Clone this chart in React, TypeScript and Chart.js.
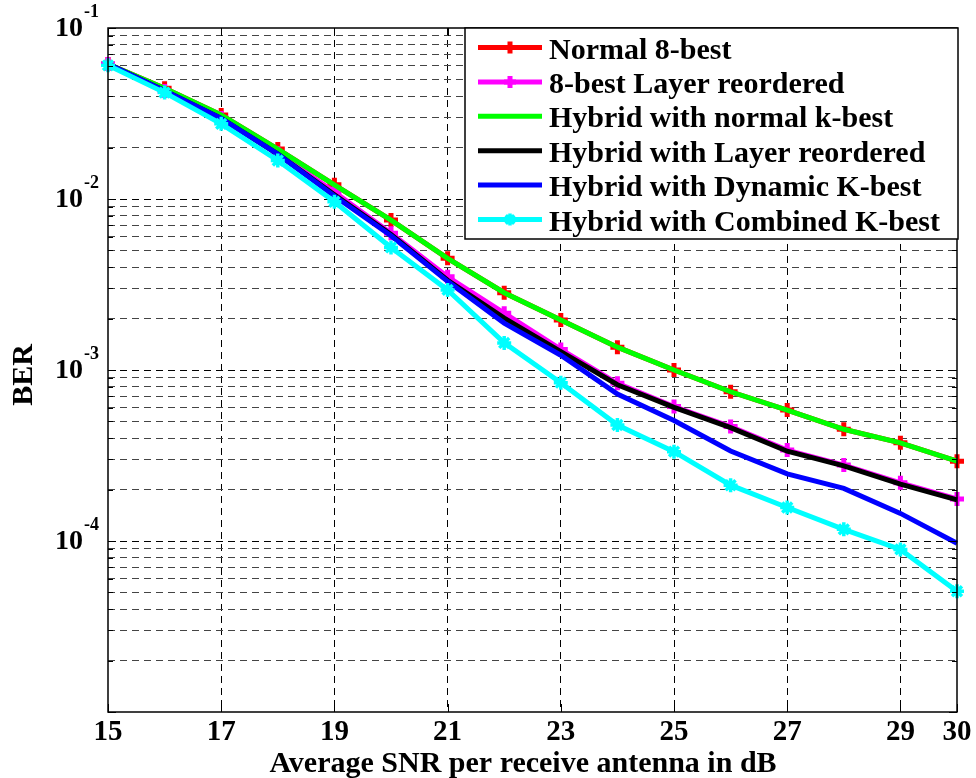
import React, { useEffect, useRef } from 'react';
import { Chart, registerables } from 'chart.js';

Chart.register(...registerables);

// ---- data ----
const snrDb = [15, 16, 17, 18, 19, 20, 21, 22, 23, 24, 25, 26, 27, 28, 29, 30];

const normal8Best = [0.0616, 0.0444, 0.031, 0.0196, 0.0121, 0.00753, 0.0045, 0.00283, 0.00196, 0.00136, 0.001, 0.000746, 0.000583, 0.00045, 0.000375, 0.000293];
const layerReordered8Best = [0.0616, 0.0428, 0.0298, 0.0185, 0.011, 0.00631, 0.00351, 0.00215, 0.00132, 0.000836, 0.000611, 0.000467, 0.00034, 0.000278, 0.000219, 0.000176];
const hybridNormalKBest = [0.0616, 0.0444, 0.031, 0.0196, 0.0121, 0.00753, 0.0045, 0.00283, 0.00196, 0.00136, 0.001, 0.000746, 0.000583, 0.00045, 0.000375, 0.000293];
const hybridLayerReordered = [0.0616, 0.043, 0.0296, 0.0183, 0.0106, 0.0062, 0.00335, 0.00201, 0.00128, 0.00082, 0.000605, 0.00046, 0.000335, 0.000275, 0.000215, 0.000174];
const hybridDynamicKBest = [0.0616, 0.043, 0.0296, 0.0183, 0.0104, 0.0061, 0.0033, 0.00188, 0.00122, 0.000724, 0.000506, 0.000336, 0.000247, 0.000203, 0.000145, 0.000097];
const hybridCombinedKBest = [0.0605, 0.0419, 0.0275, 0.0168, 0.00964, 0.00521, 0.00294, 0.00144, 0.000843, 0.000477, 0.000333, 0.000212, 0.000157, 0.000117, 0.0000893, 0.0000508];

const seriesLabels = [
  'Normal 8-best',
  '8-best Layer reordered',
  'Hybrid with normal k-best',
  'Hybrid with Layer reordered',
  'Hybrid with Dynamic K-best',
  'Hybrid with Combined K-best',
];
const seriesColors = ['#ff0000', '#ff00ff', '#00ff00', '#000000', '#0000ff', '#00ffff'];
const seriesMarkers: (string | null)[] = ['cross', 'cross', null, null, null, 'star'];

const xTickValues = [15, 17, 19, 21, 23, 25, 27, 29, 30];
const yDecadeExponents = [-5, -4, -3, -2, -1];
const yLabelExponents = [-1, -2, -3, -4];
const xTitle = 'Average SNR per receive antenna in dB';
const yTitle = 'BER';

const FONT = '"Liberation Serif", "Times New Roman", serif';

export default function App() {
  const canvasRef = useRef<HTMLCanvasElement | null>(null);

  useEffect(() => {
    const canvas = canvasRef.current;
    if (!canvas) return;

    const seriesData = [normal8Best, layerReordered8Best, hybridNormalKBest, hybridLayerReordered, hybridDynamicKBest, hybridCombinedKBest];

    const yTickValues: number[] = [];
    for (const e of yDecadeExponents) {
      for (let m = 1; m <= 9; m++) {
        if (e === -1 && m > 1) break;
        yTickValues.push(Number((m * Math.pow(10, e)).toPrecision(6)));
      }
    }
    const isMajor = (v: number) => {
      const l = Math.log10(v);
      return Math.abs(l - Math.round(l)) < 1e-6;
    };

    const datasets = seriesData.map((arr, i) => ({
      label: seriesLabels[i],
      data: snrDb.map((x, j) => ({ x, y: arr[j] })),
      borderColor: seriesColors[i],
      backgroundColor: seriesColors[i],
      borderWidth: 5,
      pointStyle: (seriesMarkers[i] || 'circle') as any,
      pointRadius: seriesMarkers[i] ? 7 : 0,
      pointBorderWidth: seriesMarkers[i] === 'star' ? 3.5 : 5,
      pointBorderColor: seriesColors[i],
      pointBackgroundColor: seriesColors[i],
      tension: 0,
      clip: false as any,
      order: 5 - i,
    }));

    const decorPlugin = {
      id: 'decor',
      afterDatasetsDraw(chart: any) {
        const ctx = chart.ctx as CanvasRenderingContext2D;
        const { left, right, top, bottom } = chart.chartArea;
        const xs = chart.scales.x;
        const ys = chart.scales.y;
        ctx.save();
        ctx.strokeStyle = '#000';
        ctx.lineWidth = 1.5;
        ctx.setLineDash([]);
        ctx.strokeRect(left, top, right - left, bottom - top);
        ctx.lineWidth = 1;
        ctx.beginPath();
        for (const v of yTickValues) {
          const py = Math.round(ys.getPixelForValue(v)) + 0.5;
          const len = isMajor(v) ? 8 : 5;
          ctx.moveTo(left, py); ctx.lineTo(left + len, py);
          ctx.moveTo(right, py); ctx.lineTo(right - len, py);
        }
        for (const v of xTickValues) {
          const px = Math.round(xs.getPixelForValue(v)) + 0.5;
          ctx.moveTo(px, bottom); ctx.lineTo(px, bottom - 8);
          ctx.moveTo(px, top); ctx.lineTo(px, top + 8);
        }
        ctx.stroke();
        ctx.restore();
      },
      afterDraw(chart: any) {
        const ctx = chart.ctx as CanvasRenderingContext2D;
        const { right, top, bottom } = chart.chartArea;
        const ys = chart.scales.y;
        ctx.save();
        ctx.fillStyle = '#000';
        for (const e of yLabelExponents) {
          const py = ys.getPixelForValue(Math.pow(10, e));
          ctx.font = `bold 28px ${FONT}`;
          ctx.textAlign = 'right';
          ctx.textBaseline = 'middle';
          ctx.fillText('10', 83, py + 1);
          ctx.font = `bold 18px ${FONT}`;
          ctx.textAlign = 'left';
          ctx.textBaseline = 'alphabetic';
          ctx.fillText(String(e), 84, py - 11);
        }
        ctx.font = `bold 30px ${FONT}`;
        ctx.textAlign = 'center';
        ctx.textBaseline = 'alphabetic';
        ctx.fillText(xTitle, 523, 772);
        ctx.save();
        ctx.translate(32, (top + bottom) / 2 + 5);
        ctx.rotate(-Math.PI / 2);
        ctx.textBaseline = 'alphabetic';
        ctx.fillText(yTitle, 0, 0);
        ctx.restore();

        // legend
        const lx0 = 465, ly0 = top, lx1 = right + 1, ly1 = 239;
        ctx.fillStyle = '#fff';
        ctx.fillRect(lx0, ly0, lx1 - lx0, ly1 - ly0);
        ctx.strokeStyle = '#000';
        ctx.lineWidth = 1.5;
        ctx.strokeRect(lx0, ly0, lx1 - lx0, ly1 - ly0);
        for (let i = 0; i < seriesLabels.length; i++) {
          const ry = 47.5 + i * 34.4;
          ctx.strokeStyle = seriesColors[i];
          ctx.lineWidth = 5;
          ctx.beginPath();
          ctx.moveTo(478, ry);
          ctx.lineTo(542, ry);
          ctx.stroke();
          const mk = seriesMarkers[i];
          if (mk) {
            ctx.lineWidth = mk === 'star' ? 3.5 : 5;
            ctx.beginPath();
            const cx = 510, r = 6;
            ctx.moveTo(cx - r, ry); ctx.lineTo(cx + r, ry);
            ctx.moveTo(cx, ry - r); ctx.lineTo(cx, ry + r);
            if (mk === 'star') {
              const d = r * 0.707;
              ctx.moveTo(cx - d, ry - d); ctx.lineTo(cx + d, ry + d);
              ctx.moveTo(cx - d, ry + d); ctx.lineTo(cx + d, ry - d);
            }
            ctx.stroke();
          }
          ctx.fillStyle = '#000';
          ctx.font = `bold 30px ${FONT}`;
          ctx.textAlign = 'left';
          ctx.textBaseline = 'alphabetic';
          ctx.fillText(seriesLabels[i], 549, ry + 11);
        }
        ctx.restore();
      },
    };

    const chart = new Chart(canvas, {
      type: 'line',
      data: { datasets: datasets as any },
      options: {
        responsive: false,
        animation: false,
        devicePixelRatio: 1,
        layout: { padding: { left: 0, top: 28, right: 19, bottom: 0 } },
        plugins: {
          legend: { display: false },
          tooltip: { enabled: false },
        },
        scales: {
          x: {
            type: 'linear',
            min: 15,
            max: 30,
            afterBuildTicks: (s: any) => {
              s.ticks = xTickValues.map((v) => ({ value: v }));
            },
            afterFit: (s: any) => {
              s.height = 66;
            },
            ticks: {
              autoSkip: false,
              maxRotation: 0,
              padding: 3,
              color: '#000',
              font: { family: FONT, size: 29, weight: 'bold' },
              callback: (v: any) => String(v),
            },
            grid: {
              drawTicks: false,
              lineWidth: 1,
              color: (c: any) => {
                const v = c.tick ? c.tick.value : 0;
                return v === 15 || v === 30 ? 'rgba(0,0,0,0)' : '#000';
              },
            },
            border: { display: false, dash: [7, 5] },
          },
          y: {
            type: 'logarithmic',
            min: 1e-5,
            max: 1e-1,
            afterBuildTicks: (s: any) => {
              s.ticks = yTickValues.map((v) => ({ value: v }));
            },
            afterFit: (s: any) => {
              s.width = 108;
            },
            ticks: { display: false },
            grid: {
              drawTicks: false,
              lineWidth: 1,
              color: (c: any) => {
                const v = c.tick ? c.tick.value : 1;
                if (v === 1e-5 || v === 1e-1) return 'rgba(0,0,0,0)';
                return isMajor(v) ? '#000' : '#444';
              },
            },
            border: { display: false, dash: [7, 5] },
          },
        },
      },
      plugins: [decorPlugin],
    } as any);

    return () => {
      chart.destroy();
    };
  }, []);

  return (
    <div style={{ position: 'absolute', left: 0, top: 0, width: 976, height: 778, background: '#fff' }}>
      <canvas ref={canvasRef} width={976} height={778} style={{ display: 'block', width: 976, height: 778 }} />
    </div>
  );
}
